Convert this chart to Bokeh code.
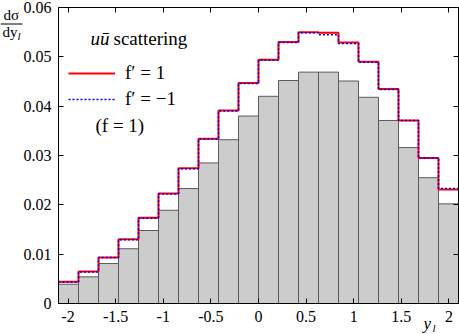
from bokeh.plotting import figure
from bokeh.models import Range1d, LinearAxis, FixedTicker, Label, Legend, LegendItem, BoxAnnotation
from bokeh.embed import file_html
from bokeh.resources import INLINE

# ---- data ----
bin_edges = [-2.1, -1.89, -1.68, -1.47, -1.26, -1.05, -0.84, -0.63, -0.42, -0.21, 0.0,
             0.21, 0.42, 0.63, 0.84, 1.05, 1.26, 1.47, 1.68, 1.89, 2.1]
hist_f1 = [0.0039, 0.0054, 0.0081, 0.0111, 0.0148, 0.0189, 0.0233, 0.0285, 0.0332, 0.0380,
           0.0420, 0.0452, 0.0469, 0.0469, 0.0451, 0.0418, 0.0371, 0.0316, 0.0255, 0.0202]
fprime_plus = [0.0044, 0.0065, 0.0093, 0.0130, 0.0174, 0.0223, 0.0274, 0.0334, 0.0391, 0.0447,
               0.0494, 0.0530, 0.0550, 0.0549, 0.0529, 0.0490, 0.0435, 0.0371, 0.0295, 0.0231]
fprime_minus = [0.0043, 0.0064, 0.0093, 0.0129, 0.0173, 0.0222, 0.0273, 0.0333, 0.0390, 0.0446,
                0.0493, 0.0529, 0.0549, 0.0545, 0.0527, 0.0489, 0.0434, 0.0371, 0.0295, 0.0233]
x_ticks = [-2, -1.5, -1, -0.5, 0, 0.5, 1, 1.5, 2]
x_tick_labels = ["-2", "-1.5", "-1", "-0.5", "0", "0.5", "1", "1.5", "2"]
y_ticks = [0, 0.01, 0.02, 0.03, 0.04, 0.05, 0.06]
y_tick_labels = ["0", "0.01", "0.02", "0.03", "0.04", "0.05", "0.06"]

FONT = "Liberation Serif"
W, H = 459, 334
# plot box in canvas pixels (left, right, top, bottom)
BL, BR, BT, BB = 58, 458, 7, 303
X0, X1 = bin_edges[0], bin_edges[-1]
Y0, Y1 = y_ticks[0], y_ticks[-1]
kx = (X1 - X0) / (BR - BL)
ky = (Y1 - Y0) / (BB - BT)

p = figure(width=W, height=H, output_backend="svg", toolbar_location=None,
           x_range=Range1d(X0 - BL * kx, X1 + (W - BR) * kx),
           y_range=Range1d(Y0 - (H - BB) * ky, Y1 + BT * ky),
           x_axis_location=None, y_axis_location=None,
           min_border_left=0, min_border_right=0, min_border_top=0, min_border_bottom=0)
p.xgrid.visible = False
p.ygrid.visible = False
p.outline_line_color = None


def make_axis(ticks, labels, show, loc, bounds):
    ax = LinearAxis(ticker=FixedTicker(ticks=ticks), fixed_location=loc, bounds=bounds,
                    major_tick_in=5, major_tick_out=0, minor_tick_in=0, minor_tick_out=0,
                    axis_line_color="black", major_tick_line_color="black",
                    major_label_text_font=FONT, major_label_text_color="black")
    if show:
        ax.major_label_overrides = {t: l for t, l in zip(ticks, labels)}
        ax.major_label_text_font_size = "16px"
        ax.major_label_standoff = 7
    else:
        ax.major_label_overrides = {t: "" for t in ticks}
        ax.major_label_text_font_size = "0px"
        ax.major_label_standoff = 0
    return ax


p.add_layout(make_axis(x_ticks, x_tick_labels, True, Y0, (X0, X1)), "below")
p.add_layout(make_axis(x_ticks, x_tick_labels, False, Y1, (X0, X1)), "above")
p.add_layout(make_axis(y_ticks, y_tick_labels, True, X0, (Y0, Y1)), "left")
p.add_layout(make_axis(y_ticks, y_tick_labels, False, X1, (Y0, Y1)), "right")

# histogram
p.quad(left=bin_edges[:-1], right=bin_edges[1:], bottom=0, top=hist_f1,
       fill_color="#cccccc", line_color="#5a5a5a", line_width=1)

# step lines
r_red = p.step(x=bin_edges, y=fprime_plus + [fprime_plus[-1]], mode="after",
               line_color="#ff0000", line_width=2)
r_blue = p.step(x=bin_edges, y=fprime_minus + [fprime_minus[-1]], mode="after",
                line_color="#0000ff", line_width=1.5, line_dash="2 2")

legend = Legend(items=[LegendItem(label="f′ = 1", renderers=[r_red]),
                       LegendItem(label="f′ = −1", renderers=[r_blue])],
                location=(68, 224), padding=0, margin=0, spacing=4,
                glyph_width=47, glyph_height=20, label_height=20, label_standoff=10,
                label_text_font=FONT, label_text_font_size="19px", label_text_color="black",
                background_fill_alpha=0, border_line_alpha=0)
p.add_layout(legend, "center")


def lab(x, y, text, size, style="normal", baseline="middle"):
    # x, y in canvas pixels from the top-left corner
    p.add_layout(Label(x=x, y=H - y, x_units="screen", y_units="screen", text=text,
                       text_font=FONT, text_font_size=size, text_font_style=style,
                       text_baseline=baseline, text_color="black"))


lab(90, 38, "uū", "19px", "italic")
lab(113, 38, "scattering", "19px")
lab(95, 125, "(f = 1)", "19px")

# y label as a fraction
lab(3, 14, "dσ", "15px")
p.add_layout(BoxAnnotation(left=0, right=22, bottom=H - 24, top=H - 23,
                           left_units="screen", right_units="screen",
                           bottom_units="screen", top_units="screen",
                           fill_color="black", fill_alpha=1, line_alpha=0))
lab(2, 31, "dy", "15px")
lab(17, 35, "l", "11px", "italic")

# x label
lab(423, 323, "y", "17px", "italic")
lab(432, 327, "l", "11px", "italic")

open("out.html", "w").write(file_html(p, INLINE))
